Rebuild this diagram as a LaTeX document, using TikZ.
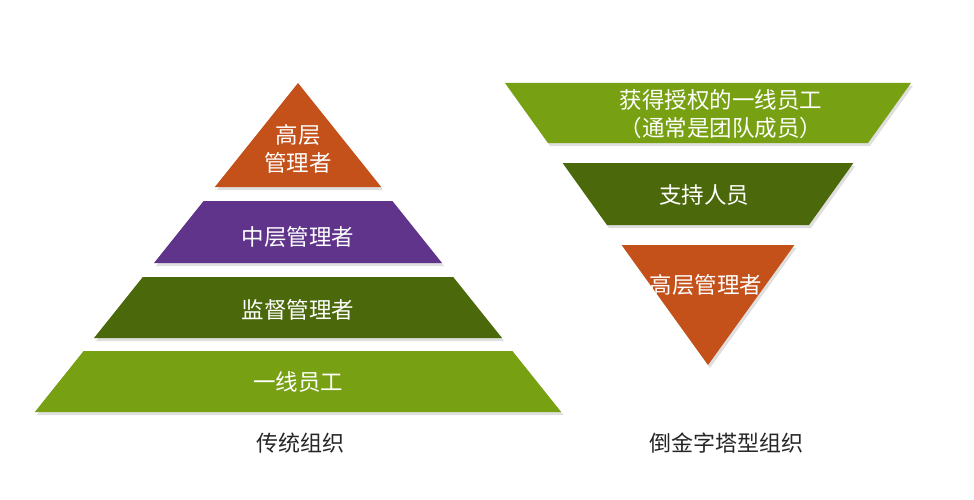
\documentclass[tikz,border=0pt]{standalone}
\usepackage{fontspec}
\setmainfont{Noto Sans CJK SC}
\usepackage{tikz}
\usetikzlibrary{shadows}
\definecolor{toporange}{HTML}{C4501A}
\definecolor{midpurple}{HTML}{5F348A}
\definecolor{darkolive}{HTML}{4B680A}
\definecolor{leafgreen}{HTML}{77A112}

\begin{document}
\begin{tikzpicture}[x=1pt,y=-1pt,
		tier/.style={drop shadow={opacity=0.25,shadow xshift=2pt,shadow yshift=-3pt}},
		tiertext/.style={text=white, align=center, font=\fontsize{22.5}{28.5}\selectfont},
		caption/.style={text=black!85, font=\fontsize{22}{26}\selectfont}
	]
		\useasboundingbox (0,0) rectangle (974,500);

		% traditional pyramid
		\fill[toporange, tier] (298,83) -- (381.2,187) -- (214.8,187) -- cycle;
		\fill[midpurple, tier] (203.6,201) -- (392.4,201) -- (442,263) -- (154,263) -- cycle;
		\fill[darkolive, tier] (142.8,277) -- (453.2,277) -- (502,338) -- (94,338) -- cycle;
		\fill[leafgreen, tier] (83.6,351) -- (512.4,351) -- (561.2,412) -- (34.8,412) -- cycle;

		\node[tiertext] (lefttop) at (298,149) {高层\\管理者};
		\node[tiertext] (leftmid) at (298,237) {中层管理者};
		\node[tiertext] (leftsup) at (298,310) {监督管理者};
		\node[tiertext] (leftbase) at (298,382) {一线员工};

		% inverted pyramid
		\fill[leafgreen, tier] (505,83) -- (911,83) -- (868,143) -- (548,143) -- cycle;
		\fill[darkolive, tier] (562.6,163) -- (853.4,163) -- (809,225) -- (607,225) -- cycle;
		\fill[toporange, tier] (621.6,245) -- (794.4,245) -- (708,365) -- cycle;

		\node[tiertext] (righttop) at (721,114) {获得授权的一线员工\\（通常是团队成员）};
		\node[tiertext] (rightmid) at (704,195) {支持人员};
		\node[tiertext] (rightapex) at (706,285) {高层管理者};

		\node[caption] (leftcap) at (300,443) {传统组织};
		\node[caption] (rightcap) at (726,443) {倒金字塔型组织};
	\end{tikzpicture}
\end{document}
